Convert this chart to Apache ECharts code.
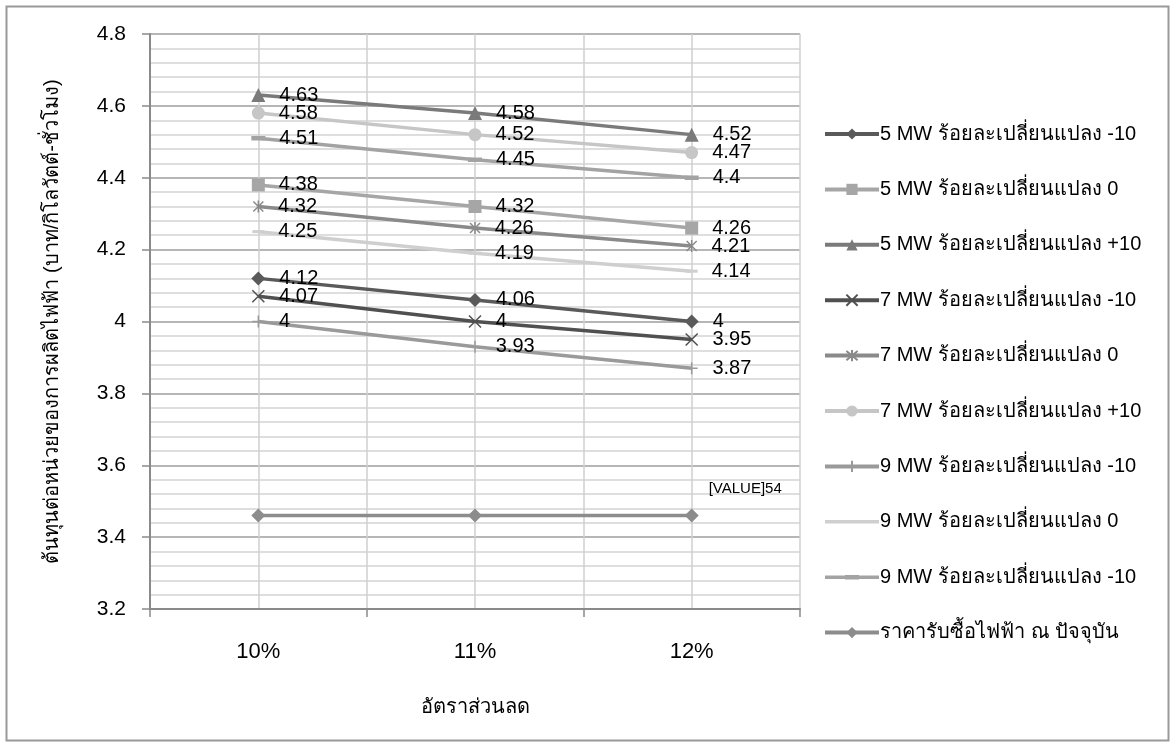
<!DOCTYPE html>
<html>
<head>
<meta charset="utf-8">
<script src="https://cdn.jsdelivr.net/npm/echarts@6/dist/echarts.min.js"></script>
<style>
html,body{margin:0;padding:0;background:#fff;}
#chart{width:1174px;height:743px;}
</style>
</head>
<body>
<div id="chart"></div>
<script>
const categories = ['10%', '11%', '12%'];
const seriesNames = [
  '5 MW ร้อยละเปลี่ยนแปลง -10',
  '5 MW ร้อยละเปลี่ยนแปลง 0',
  '5 MW ร้อยละเปลี่ยนแปลง +10',
  '7 MW ร้อยละเปลี่ยนแปลง -10',
  '7 MW ร้อยละเปลี่ยนแปลง 0',
  '7 MW ร้อยละเปลี่ยนแปลง +10',
  '9 MW ร้อยละเปลี่ยนแปลง -10',
  '9 MW ร้อยละเปลี่ยนแปลง 0',
  '9 MW ร้อยละเปลี่ยนแปลง -10 ',
  'ราคารับซื้อไฟฟ้า ณ ปัจจุบัน'
];
const mw5m10 = [4.12, 4.06, 4.00];
const mw5z = [4.38, 4.32, 4.26];
const mw5p10 = [4.63, 4.58, 4.52];
const mw7m10 = [4.07, 4.00, 3.95];
const mw7z = [4.32, 4.26, 4.21];
const mw7p10 = [4.58, 4.52, 4.47];
const mw9m10 = [4.00, 3.93, 3.87];
const mw9z = [4.25, 4.19, 4.14];
const mw9m10b = [4.51, 4.45, 4.40];
const currentPrice = [3.46, 3.46, 3.46];
const priceLabel = '[VALUE]54';
const yTicks = { min: 3.2, max: 4.8, interval: 0.2 };
const xTitle = 'อัตราส่วนลด';
const yTitle = 'ต้นทุนต่อหน่วยของการผลิตไฟฟ้า (บาท/กิโลวัตต์-ชั่วโมง)';

const FONT = '"Liberation Sans", Arial, Helvetica, sans-serif';
const xPath = 'path://M0,0L10,10M10,0L0,10';
const starPath = 'path://M0,0L10,10M10,0L0,10M5,-1L5,11';
const plusPath = 'path://M5,0L5,10M0,5L10,5';
const thinBar = 'path://M0,0L12,0L12,3L0,3Z';
const dashBar = 'path://M0,0L14,0L14,4.5L0,4.5Z';
const legendLineIcon = 'path://M0,0L54,0L54,3.5L0,3.5Z';
const legendDashIcon = 'path://M0,0.5L20,0.5L20,0L34,0L34,0.5L54,0.5L54,4L34,4L34,4.5L20,4.5L20,4L0,4Z';

function mk(name, data, color, symbol, size, stroke, symColor) {
  const itemStyle = { color: symColor || color };
  if (stroke) { itemStyle.borderColor = color; itemStyle.borderWidth = 1.5; itemStyle.color = 'rgba(0,0,0,0)'; }
  return {
    name: name, type: 'line', data: data,
    symbol: symbol, symbolSize: size, symbolKeepAspect: true,
    lineStyle: { color: color, width: 3.5 },
    itemStyle: itemStyle,
    label: { show: true, position: 'right', distance: 14, color: '#000', fontSize: 20, fontFamily: FONT },
    animation: false
  };
}

const series = [
  mk(seriesNames[0], mw5m10, '#5a5a5a', 'diamond', 14),
  mk(seriesNames[1], mw5z, '#a6a6a6', 'rect', 13),
  mk(seriesNames[2], mw5p10, '#7a7a7a', 'triangle', 14),
  mk(seriesNames[3], mw7m10, '#505050', xPath, 12, true),
  mk(seriesNames[4], mw7z, '#8a8a8a', starPath, 12, true),
  mk(seriesNames[5], mw7p10, '#c6c6c6', 'circle', 13),
  mk(seriesNames[6], mw9m10, '#9a9a9a', plusPath, 12, true),
  mk(seriesNames[7], mw9z, '#cfcfcf', thinBar, 12),
  mk(seriesNames[8], mw9m10b, '#a3a3a3', dashBar, 14, false, '#a3a3a3'),
  {
    name: seriesNames[9], type: 'line', data: currentPrice,
    symbol: 'diamond', symbolSize: 14,
    lineStyle: { color: '#8c8c8c', width: 3.5 },
    itemStyle: { color: '#8c8c8c' },
    label: {
      show: true, position: 'right', distance: 10, offset: [0, -27],
      color: '#000', fontSize: 15, fontFamily: FONT,
      formatter: p => (p.dataIndex === categories.length - 1 ? priceLabel : '')
    },
    animation: false
  }
];

const legendData = seriesNames.map((n, i) => {
  if (i === 7) return { name: n, icon: legendLineIcon };
  if (i === 8) return { name: n, icon: legendDashIcon };
  return { name: n };
});

const chart = echarts.init(document.getElementById('chart'));
chart.setOption({
  backgroundColor: '#fff',
  animation: false,
  textStyle: { fontFamily: FONT },
  grid: { left: 150, right: 374, top: 34, bottom: 134 },
  legend: {
    orient: 'vertical', left: 818, top: 119,
    itemWidth: 54, itemHeight: 14, itemGap: 35.4,
    lineStyle: { width: 4 },
    textStyle: { fontSize: 20, color: '#000', fontFamily: FONT, lineHeight: 20, padding: [0, 0, 0, -4] },
    data: legendData
  },
  xAxis: [
    {
      type: 'category', data: categories, boundaryGap: true,
      name: xTitle, nameLocation: 'middle', nameGap: 88,
      nameTextStyle: { fontSize: 20, color: '#000', fontFamily: FONT },
      axisLine: { lineStyle: { color: '#8a8a8a', width: 2 } },
      axisTick: { show: true, length: 8, lineStyle: { color: '#8a8a8a', width: 1.5 } },
      axisLabel: { fontSize: 22, color: '#000', margin: 32, fontFamily: FONT },
      splitLine: { show: false }
    },
    {
      type: 'value', min: 0, max: 6, interval: 1, position: 'bottom',
      axisLine: { show: false }, axisTick: { show: false }, axisLabel: { show: false },
      splitLine: { show: true, lineStyle: { color: '#cfcfcf', width: 1.5 } }
    }
  ],
  yAxis: {
    type: 'value', min: yTicks.min, max: yTicks.max, interval: yTicks.interval,
    name: yTitle, nameLocation: 'middle', nameGap: 88, nameRotate: 90,
    nameTextStyle: { fontSize: 20, color: '#000', fontFamily: FONT },
    axisLine: { show: true, lineStyle: { color: '#8a8a8a', width: 2 } },
    axisTick: { show: true, length: 8, lineStyle: { color: '#8a8a8a', width: 1.5 } },
    axisLabel: { fontSize: 21, color: '#000', margin: 24, fontFamily: FONT },
    splitLine: { show: true, lineStyle: { color: '#9e9e9e', width: 1.5 } },
    minorTick: { show: false, splitNumber: 5 },
    minorSplitLine: { show: true, lineStyle: { color: '#d4d4d4', width: 1.5 } }
  },
  graphic: [{
    type: 'rect', left: 4, top: 4, silent: true,
    shape: { width: 1162, height: 734 },
    style: { fill: 'none', stroke: '#999', lineWidth: 2 }
  }],
  series: series
});
</script>
</body>
</html>
